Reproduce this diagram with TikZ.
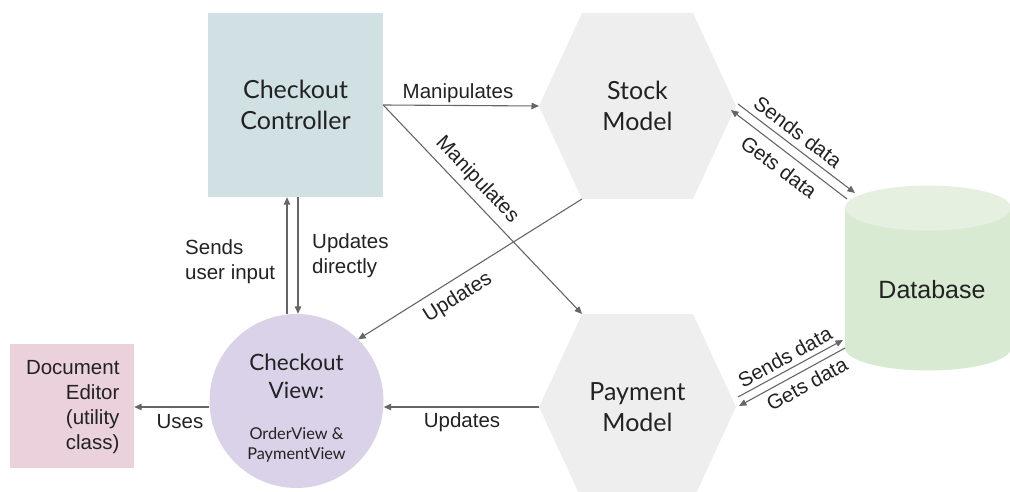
\documentclass[tikz,border=0pt]{standalone}
\usepackage{fontspec}
\setmainfont{Liberation Sans}
\newfontfamily\latofont{Lato}
\usetikzlibrary{arrows.meta}

\definecolor{ctrlfill}{HTML}{D0E0E3}
\definecolor{hexfill}{HTML}{EEEEEE}
\definecolor{viewfill}{HTML}{D9D2E9}
\definecolor{docfill}{HTML}{EAD1DC}
\definecolor{dbfill}{HTML}{D9EAD3}
\definecolor{dbtop}{HTML}{E5F0E0}
\definecolor{linkgray}{HTML}{666666}
\definecolor{inkdark}{HTML}{222222}

\tikzset{
  link/.style={draw=linkgray, line width=1.1pt, -{Triangle[length=7.5pt,width=6.5pt]}},
  lbl/.style={font=\fontsize{20.5}{25}\selectfont, text=inkdark, inner sep=0pt},
  bigtext/.style={font=\latofont\fontsize{25}{31}\selectfont, text=inkdark, align=center},
}

\begin{document}
\begin{tikzpicture}[x=1pt, y=-1pt]
  \useasboundingbox (0,0) rectangle (1010,492);
  \clip (0,0) rectangle (1010,492);

  % Controller
  \node[fill=ctrlfill, minimum width=175pt, minimum height=184pt, inner sep=0pt,
        bigtext] (ctrl) at (295.5,105) {Checkout\\Controller};

  % Stock model hexagon
  \fill[hexfill] (539,106) -- (582,13) -- (693,13) -- (736,106) -- (693,199) -- (582,199) -- cycle;
  \coordinate (stockW) at (539,106);
  \coordinate (stockBL) at (582,199);
  \node[bigtext] (stock) at (637.5,106) {Stock\\Model};

  % Payment model hexagon
  \fill[hexfill] (539,407) -- (582,314) -- (693,314) -- (736,407) -- (693,500) -- (582,500) -- cycle;
  \coordinate (payW) at (539,407);
  \coordinate (payTL) at (582,314);
  \node[bigtext] (pay) at (637.5,407) {Payment\\Model};

  % Database cylinder
  \fill[dbfill] (845,208) -- (845,348) arc[start angle=180, end angle=0, x radius=83, y radius=22.5]
        -- (1011,208) -- cycle;
  \fill[dbtop] (928,208) ellipse[x radius=83, y radius=22.5];
  \node[font=\fontsize{25}{30}\selectfont, text=inkdark] (db) at (932,290) {Database};

  % View circle
  \node[circle, fill=viewfill, minimum size=174pt, inner sep=0pt] (view) at (296.5,401) {};
  \node[bigtext, font=\latofont\fontsize{22.5}{28}\selectfont] (viewtitle) at (296.5,376) {Checkout\\View:};
  \node[font=\latofont\fontsize{16.3}{20}\selectfont, text=inkdark, align=center] (viewsub) at (296.5,445) {OrderView \&\\PaymentView};

  % Utility class box
  \node[fill=docfill, minimum width=124pt, minimum height=124pt, inner sep=0pt] (doc) at (72,406) {};
  \node[anchor=east, align=right, text=inkdark, font=\fontsize{20.5}{25}\selectfont] (doctext) at (123,407)
        {Document\\Editor\\(utility\\class)};

  % Database link end points
  \coordinate (sdA1) at (738,104);
  \coordinate (sdA2) at (855,193);
  \coordinate (gdA1) at (847,199);
  \coordinate (gdA2) at (731,110);
  \coordinate (sdB1) at (738,397);
  \coordinate (sdB2) at (843,340);
  \coordinate (gdB1) at (845,348);
  \coordinate (gdB2) at (739,406);

  % Connectors
  \draw[link] (ctrl.east) -- (stockW);
  \draw[link] (ctrl.east) -- (payTL);
  \draw[link] (stockBL) -- (view.45);
  \draw[link] ([xshift=-8.5pt]ctrl.south |- view.north) -- ([xshift=-8.5pt]ctrl.south);
  \draw[link] ([xshift=2.5pt]ctrl.south) -- ([xshift=2.5pt]ctrl.south |- view.north);
  \draw[link] (payW) -- (payW -| view.east);
  \draw[link] (view.west |- payW) -- (doc.east |- payW);
  \draw[link] (sdA1) -- (sdA2);
  \draw[link] (gdA1) -- (gdA2);
  \draw[link] (sdB1) -- (sdB2);
  \draw[link] (gdB1) -- (gdB2);

  % Connector labels
  \node[lbl] (lmanip1) at (458,93) {Manipulates};
  \node[lbl, rotate=-46.4] (lmanip2) at (477,180) {Manipulates};
  \node[lbl, rotate=32] (lupd1) at (458,298) {Updates};
  \node[lbl, anchor=west, align=left] (ldirect) at (312,256) {Updates\\directly};
  \node[lbl, anchor=west, align=left] (linput) at (185,262) {Sends\\user input};
  \node[lbl] (lupd2) at (462,422) {Updates};
  \node[lbl] (luses) at (180,422) {Uses};
  \node[lbl, rotate=-37] (lsendA) at (798,132) {Sends data};
  \node[lbl, rotate=-37] (lgetA) at (779,167) {Gets data};
  \node[lbl, rotate=29] (lsendB) at (785,357) {Sends data};
  \node[lbl, rotate=29] (lgetB) at (807,384) {Gets data};
\end{tikzpicture}
\end{document}
